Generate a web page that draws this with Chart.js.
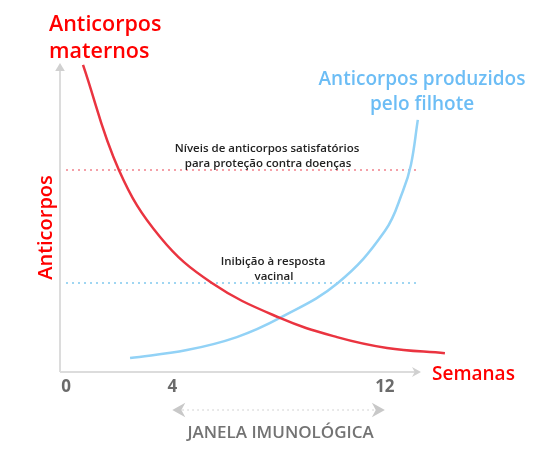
<!DOCTYPE html>
<html>
<head>
<meta charset="utf-8">
<script src="https://cdn.jsdelivr.net/npm/chart.js@4/dist/chart.umd.min.js"></script>
<style>
html,body{margin:0;padding:0;background:#fff;}
#wrap{width:547px;height:458px;}
</style>
</head>
<body>
<div id="wrap"><canvas id="c" width="547" height="458"></canvas></div>
<script>
// ---- data ----
const xTickValues = [0, 4, 12];
const xTickLabels = ['0', '4', '12'];
const maternalWeeks  = [0.64, 1.99, 3.54, 5.49, 8.05, 10.2, 12.08, 14.26];
const maternalLevels = [99.4, 65.4, 43.7, 28.8, 17.5, 11.3, 7.8, 6.1];
const puppyWeeks  = [2.41, 4.55, 6.43, 8.05, 10.23, 12.0, 12.68, 12.98, 13.24];
const puppyLevels = [4.5, 7.1, 11.3, 17.5, 28.8, 45.6, 58.6, 67.0, 81.6];
const referenceWeeks = [0, 13.28];
const protectionLevel = [65.4, 65.4];
const inhibitionLevel = [28.8, 28.8];
const windowWeeks = [4, 12];

const toPoints = (xs, ys) => xs.map((x, i) => ({x: x, y: ys[i]}));

const FONT = '"Open Sans", "Noto Sans", sans-serif';

function arrowHead(ctx, x, y, dir, size, color) {
  ctx.save();
  ctx.fillStyle = color;
  ctx.beginPath();
  if (dir === 'up') { ctx.moveTo(x, y); ctx.lineTo(x - size*0.6, y + size); ctx.lineTo(x + size*0.6, y + size); }
  else if (dir === 'right') { ctx.moveTo(x, y); ctx.lineTo(x - size, y - size*0.55); ctx.lineTo(x - size*0.7, y); ctx.lineTo(x - size, y + size*0.55); }
  else if (dir === 'left') { ctx.moveTo(x, y); ctx.lineTo(x + size, y - size*0.55); ctx.lineTo(x + size*0.7, y); ctx.lineTo(x + size, y + size*0.55); }
  ctx.closePath();
  ctx.fill();
  ctx.restore();
}

const decor = {
  id: 'decor',
  beforeDatasetsDraw(chart) {
    const {ctx, chartArea: a} = chart;
    ctx.save();
    ctx.strokeStyle = '#dcdcdc';
    ctx.lineWidth = 2;
    ctx.beginPath();
    ctx.moveTo(a.left, a.bottom); ctx.lineTo(a.left, a.top + 6);
    ctx.moveTo(a.left, a.bottom); ctx.lineTo(a.right - 6, a.bottom);
    ctx.stroke();
    arrowHead(ctx, a.left, a.top, 'up', 8, '#d0d0d0');
    arrowHead(ctx, a.right, a.bottom, 'right', 9, '#d0d0d0');
    ctx.restore();
  },
  afterDraw(chart) {
    const {ctx, chartArea: a, scales: {x, y}} = chart;
    ctx.save();
    // x tick labels
    ctx.fillStyle = '#6b6b6b';
    ctx.font = 'bold 17px ' + FONT;
    ctx.textAlign = 'center';
    ctx.textBaseline = 'alphabetic';
    xTickValues.forEach((v, i) => ctx.fillText(xTickLabels[i], x.getPixelForValue(v), a.bottom + 20));

    // immunological window arrow
    const wy = a.bottom + 38;
    const wx1 = x.getPixelForValue(windowWeeks[0]);
    const wx2 = x.getPixelForValue(windowWeeks[1]);
    ctx.strokeStyle = '#d9d9d9';
    ctx.lineWidth = 1.5;
    ctx.setLineDash([1.5, 3.5]);
    ctx.beginPath(); ctx.moveTo(wx1 + 10, wy); ctx.lineTo(wx2 - 10, wy); ctx.stroke();
    ctx.setLineDash([]);
    arrowHead(ctx, wx1, wy, 'left', 13, '#c8c8c8');
    arrowHead(ctx, wx2, wy, 'right', 13, '#c8c8c8');
    ctx.fillStyle = '#737373';
    ctx.font = '600 17px ' + FONT;
    ctx.fillText('JANELA IMUNOLÓGICA', (wx1 + wx2) / 2 + 2, wy + 28);

    // Semanas
    ctx.fillStyle = '#f00';
    ctx.font = '600 19px ' + FONT;
    ctx.textAlign = 'left';
    ctx.fillText('Semanas', a.right + 11, a.bottom + 8);

    // Y title
    ctx.save();
    ctx.translate(a.left - 8, (a.top + a.bottom) / 2 + 10);
    ctx.rotate(-Math.PI / 2);
    ctx.textAlign = 'center';
    ctx.font = '600 20px ' + FONT;
    ctx.fillText('Anticorpos', 0, 0);
    ctx.restore();

    // Maternal label
    ctx.font = '600 21.5px ' + FONT;
    ctx.textAlign = 'left';
    ctx.fillText('Anticorpos', 49, 31);
    ctx.fillText('maternos', 49, 58);

    // Puppy label
    ctx.fillStyle = '#6cbdf5';
    ctx.font = '600 19px ' + FONT;
    ctx.textAlign = 'center';
    ctx.fillText('Anticorpos produzidos', 422, 85);
    ctx.fillText('pelo filhote', 422, 110);

    // reference labels
    ctx.fillStyle = '#222';
    ctx.font = '600 11.5px ' + FONT;
    const py = y.getPixelForValue(protectionLevel[0]);
    ctx.fillText('Níveis de anticorpos satisfatórios', 267, py - 18);
    ctx.fillText('para proteção contra doenças', 268, py - 3);
    const iy = y.getPixelForValue(inhibitionLevel[0]);
    ctx.fillText('Inibição à resposta', 273, iy - 18);
    ctx.fillText('vacinal', 274, iy - 3);
    ctx.restore();
  }
};

new Chart(document.getElementById('c'), {
  type: 'line',
  data: {
    datasets: [
      { label: 'Níveis de anticorpos satisfatórios', data: toPoints(referenceWeeks, protectionLevel),
        borderColor: '#f4a0a8', borderWidth: 2, borderDash: [2, 4], pointRadius: 0, order: 3 },
      { label: 'Inibição à resposta vacinal', data: toPoints(referenceWeeks, inhibitionLevel),
        borderColor: '#9fd6f2', borderWidth: 2, borderDash: [2, 4], pointRadius: 0, order: 3 },
      { label: 'Anticorpos produzidos pelo filhote', data: toPoints(puppyWeeks, puppyLevels),
        borderColor: '#92d2f6', borderWidth: 2.5, pointRadius: 0, tension: 0.4, clip: false, order: 2 },
      { label: 'Anticorpos maternos', data: toPoints(maternalWeeks, maternalLevels),
        borderColor: '#ea3440', borderWidth: 2.5, pointRadius: 0, tension: 0.4, clip: false, order: 1 }
    ]
  },
  options: {
    responsive: false,
    animation: false,
    events: [],
    layout: { padding: { left: 60, top: 63, right: 126, bottom: 86 } },
    plugins: { legend: { display: false }, tooltip: { enabled: false } },
    scales: {
      x: { type: 'linear', min: -0.226, max: 13.36, display: false },
      y: { type: 'linear', min: 0, max: 100, display: false }
    }
  },
  plugins: [decor]
});
</script>
</body>
</html>
